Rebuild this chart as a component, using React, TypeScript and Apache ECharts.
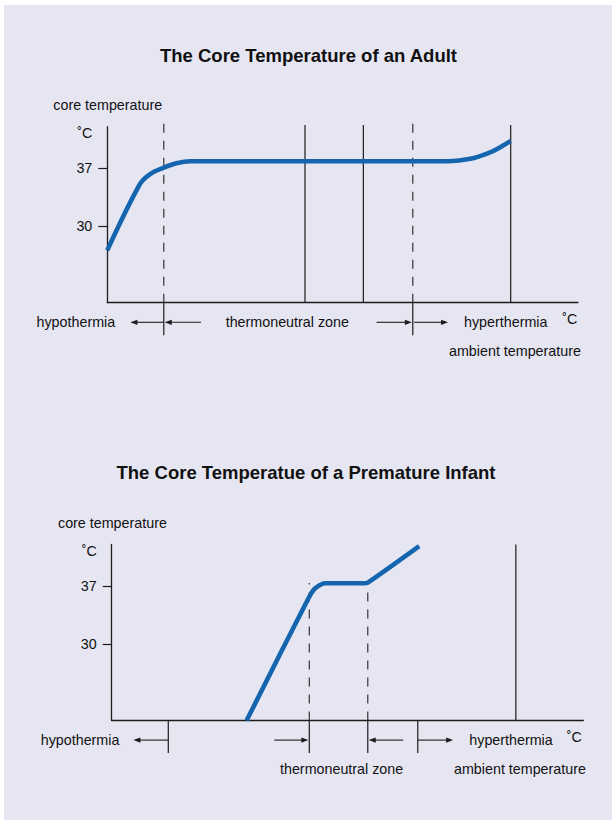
import React, { useEffect, useRef } from "react";
import * as echarts from "echarts";

// ---- data (ambient temperature on an arbitrary 0–100 scale, core temperature in ˚C) ----
const yTickValues = [30, 37];

const adultAmbient = [0, 6.95, 9.1, 11.9, 14.7, 17.6, 72.5, 77.1, 81.3, 83.4, 85.7];
const adultCore = [27.1, 35.1, 36.3, 37.05, 37.6, 37.84, 37.84, 38.13, 38.9, 39.5, 40.3];
const adultSolidLines = [42, 54.4, 85.7];
const adultDashedLines = [12, 64.9];
const adultSolidTop = 42.2;
const adultDashedTop = 42.45;
const adultDividers = [12, 64.9];
const adultArrows: [number, number][] = [
  [12, 4.9],
  [19.9, 12.2],
  [57.2, 64.7],
  [65.2, 72.4],
];

const infantAmbient = [28.6, 41.7, 43.1, 45.2, 53.5, 54.3, 65.2];
const infantCore = [20.8, 35.5, 36.7, 37.33, 37.33, 37.4, 41.8];
const infantSolidLines = [85.7];
const infantDashedLines = [41.9, 54.3];
const infantSolidTop = 42.0;
const infantDashedTops = [37.35, 37.5];
const infantDividers = [12, 41.9, 54.3, 64.9];
const infantArrows: [number, number][] = [
  [12, 4.6],
  [34.5, 41.7],
  [61.8, 54.5],
  [64.9, 72.4],
];

const W = 615;
const H = 820;

export default function App() {
  const ref = useRef<HTMLDivElement>(null);
  useEffect(() => {
    const el = ref.current;
    if (!el) return;
    const chart = echarts.init(el, null, { renderer: "svg", width: W, height: H });
    const font = '"Liberation Sans", Arial, Helvetica, sans-serif';
    const ink = "#1c1c1c";
    const blue = "#1565ae";
    const yMin = 20.8;
    const yMax = 42;
    const grids = [
      { left: 107.3, top: 126.7, width: 470.7, height: 176 },
      { left: 111.7, top: 544.5, width: 471.6, height: 176 },
    ];

    const xAxis = grids.map((_, i) => ({
      type: "value",
      gridIndex: i,
      min: 0,
      max: 100,
      axisLine: { show: true, onZero: false, lineStyle: { color: ink, width: 1.3 } },
      axisTick: { show: false },
      axisLabel: { show: false },
      splitLine: { show: false },
    }));
    const yAxis = grids.map((_, i) => ({
      type: "value",
      gridIndex: i,
      min: yMin,
      max: yMax,
      axisLine: { show: true, onZero: false, lineStyle: { color: ink, width: 1.3 } },
      axisTick: { show: true, length: 9, customValues: yTickValues, lineStyle: { color: ink, width: 1.2 } },
      axisLabel: {
        show: true,
        customValues: yTickValues,
        margin: 15,
        fontSize: 14.3,
        color: "#111",
        fontFamily: font,
      },
      splitLine: { show: false },
    }));

    const vline = (gi: number, x: number, top: number, dashed: boolean) => ({
      type: "line",
      xAxisIndex: gi,
      yAxisIndex: gi,
      data: [
        [x, yMin],
        [x, top],
      ],
      showSymbol: false,
      symbol: "none",
      clip: false,
      silent: true,
      z: 1,
      lineStyle: { color: dashed ? "#333" : ink, width: 1.2, type: dashed ? [9, 8] : "solid" },
    });

    const series: any[] = [];
    adultSolidLines.forEach((x) => series.push(vline(0, x, adultSolidTop, false)));
    adultDashedLines.forEach((x) => series.push(vline(0, x, adultDashedTop, true)));
    infantSolidLines.forEach((x) => series.push(vline(1, x, infantSolidTop, false)));
    infantDashedLines.forEach((x, i) => series.push(vline(1, x, infantDashedTops[i], true)));
    series.push({
      type: "line",
      xAxisIndex: 0,
      yAxisIndex: 0,
      data: adultAmbient.map((x, i) => [x, adultCore[i]]),
      smooth: 0.35,
      showSymbol: false,
      symbol: "none",
      clip: false,
      z: 5,
      lineStyle: { color: blue, width: 4.6 },
    });
    series.push({
      type: "line",
      xAxisIndex: 1,
      yAxisIndex: 1,
      data: infantAmbient.map((x, i) => [x, infantCore[i]]),
      smooth: 0.25,
      showSymbol: false,
      symbol: "none",
      clip: false,
      z: 5,
      lineStyle: { color: blue, width: 4.6 },
    });

    chart.setOption({
      animation: false,
      backgroundColor: "#ffffff",
      grid: grids,
      xAxis,
      yAxis,
      series,
    });

    const toPx = (gi: number, x: number, y: number) =>
      chart.convertToPixel({ gridIndex: gi } as any, [x, y]) as number[];

    const graphics: any[] = [
      {
        type: "rect",
        shape: { x: 4, y: 5, width: 608, height: 815 },
        style: { fill: "#e6e6f2" },
        z: -100,
        silent: true,
      },
    ];

    const addText = (text: string, x: number, y: number, opts: any = {}) => {
      graphics.push({
        type: "text",
        x,
        y,
        z: 10,
        silent: true,
        style: {
          text,
          fill: "#111",
          font: `${opts.bold ? "bold " : ""}${opts.size || 14.3}px ${font}`,
          textAlign: opts.align || "left",
          textVerticalAlign: "middle",
          align: opts.align || "left",
          verticalAlign: "middle",
        },
      });
    };

    const panels = [
      { gi: 0, dividers: adultDividers, arrows: adultArrows },
      { gi: 1, dividers: infantDividers, arrows: infantArrows },
    ];
    panels.forEach(({ gi, dividers, arrows }) => {
      dividers.forEach((x) => {
        const p = toPx(gi, x, yMin);
        graphics.push({
          type: "line",
          z: 3,
          silent: true,
          shape: { x1: p[0], y1: p[1], x2: p[0], y2: p[1] + 32.5 },
          style: { stroke: ink, lineWidth: 1.2 },
        });
      });
      arrows.forEach(([from, to]) => {
        const a = toPx(gi, from, yMin);
        const b = toPx(gi, to, yMin);
        const y = a[1] + 19.6;
        const dir = b[0] > a[0] ? 1 : -1;
        const headLen = 7;
        const halfW = 2.6;
        graphics.push({
          type: "line",
          z: 3,
          silent: true,
          shape: { x1: a[0], y1: y, x2: b[0] - dir * headLen * 0.6, y2: y },
          style: { stroke: ink, lineWidth: 1.1 },
        });
        graphics.push({
          type: "polygon",
          z: 3,
          silent: true,
          shape: {
            points: [
              [b[0], y],
              [b[0] - dir * headLen, y - halfW],
              [b[0] - dir * headLen, y + halfW],
            ],
          },
          style: { fill: ink },
        });
      });
    });

    // titles and labels
    addText("The Core Temperature of an Adult", 308.5, 55, { bold: true, size: 18.5, align: "center" });
    addText("core temperature", 53.3, 105);
    addText("˚C", 77.3, 133);
    addText("hypothermia", 36.5, 322.3);
    addText("thermoneutral zone", 225.7, 322.3);
    addText("hyperthermia", 464, 322.3);
    addText("˚C", 562.3, 319.3);
    addText("ambient temperature", 449, 350.7);

    addText("The Core Temperatue of a Premature Infant", 306, 472.3, { bold: true, size: 18.5, align: "center" });
    addText("core temperature", 58, 523.3);
    addText("˚C", 81.7, 551);
    addText("hypothermia", 40.7, 740);
    addText("thermoneutral zone", 280, 769.3);
    addText("hyperthermia", 469.3, 740);
    addText("˚C", 566.7, 736.7);
    addText("ambient temperature", 454, 769.3);

    chart.setOption({ graphic: { elements: graphics } });

    return () => {
      chart.dispose();
    };
  }, []);

  return (
    <div
      ref={ref}
      style={{ position: "fixed", left: 0, top: 0, width: W, height: H }}
    />
  );
}
